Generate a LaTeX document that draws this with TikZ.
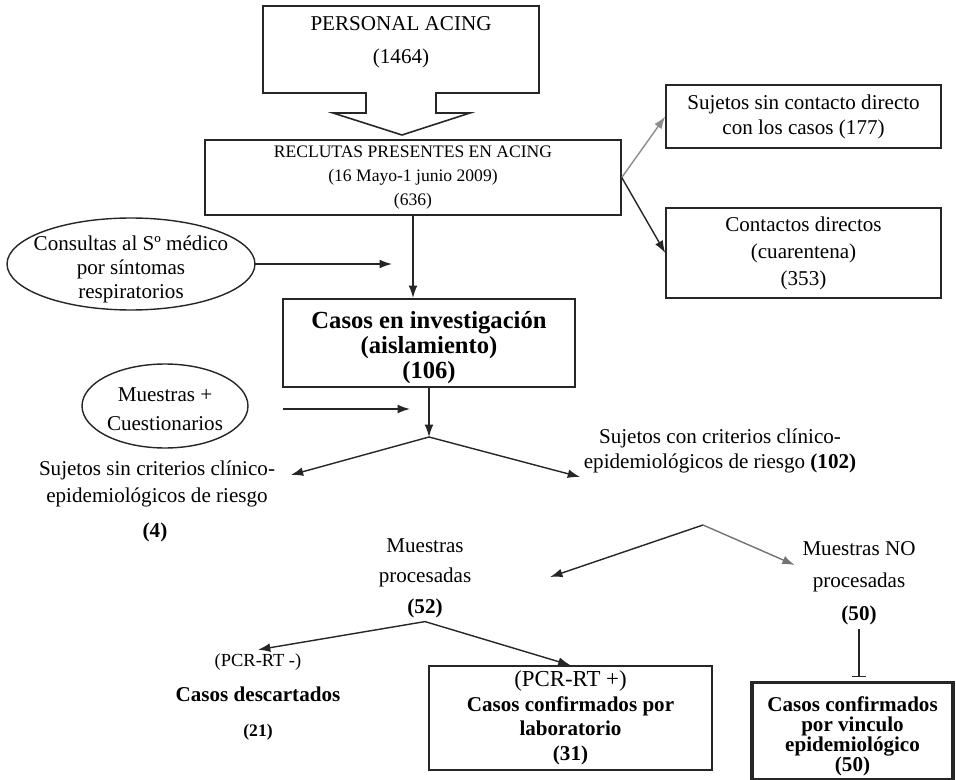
\documentclass[tikz,border=0pt]{standalone}
\usepackage{fontspec}
\setmainfont{Liberation Serif}
\usetikzlibrary{calc,positioning,arrows.meta,shapes}

\begin{document}
\begin{tikzpicture}[x=0.02cm,y=-0.02cm]
\tikzstyle{box}=[draw=black!85, rectangle, align=center, line width=0.9pt, inner sep=2pt]
\tikzstyle{txt}=[align=center, inner sep=2pt]
\tikzstyle{arr}=[-{Latex[length=7pt, width=5pt]}, line width=0.8pt, draw=black!85]
\tikzstyle{norm}=[font=\fontsize{12}{14.2}\selectfont]

\useasboundingbox (0,0) rectangle (956,780);

% top block arrow
\node[txt, font=\fontsize{12}{19}\selectfont] (personal) at (401,42) {PERSONAL ACING\\(1464)};
\draw[line width=0.9pt, black!85] ($(personal)+(-138,-36)$) -- ++(276,0) -- ++(0,87) -- ++(-103,0) -- ++(0,20) -- ++(34,0)
  -- ++(-68,22) -- ++(-69,-22) -- ++(33,0) -- ++(0,-20) -- ++(-103,0) -- cycle;

\node[box, minimum width=8.32cm, minimum height=1.5cm, font=\fontsize{10}{13.7}\selectfont] (reclutas) at (413,177.5)
  {RECLUTAS PRESENTES EN ACING\\(16 Mayo-1 junio 2009)\\(636)};
\node[box, norm, minimum width=5.5cm, minimum height=1.26cm] (sincont) at (803.5,116.5) {Sujetos sin contacto directo\\con los casos (177)};
\node[box, minimum width=5.5cm, minimum height=1.8cm, font=\fontsize{12}{15.4}\selectfont] (contactos) at (803.5,253) {Contactos directos\\(cuarentena)\\(353)};

% ellipses
\node[txt, font=\fontsize{12}{13.7}\selectfont] (consultas) at (131,269) {Consultas al Sº médico\\por síntomas\\respiratorios};
\draw[line width=0.8pt, black!85] ($(consultas)+(0,-5)$) ellipse [x radius=2.48cm, y radius=0.92cm];
\node[txt, font=\fontsize{12}{16.5}\selectfont] (muestras) at (165,409) {Muestras +\\Cuestionarios};
\draw[line width=0.8pt, black!85] ($(muestras)+(0,-3)$) ellipse [x radius=1.66cm, y radius=0.84cm];

\node[box, minimum width=5.84cm, minimum height=1.72cm, font=\fontsize{14}{14.2}\selectfont\bfseries] (casos) at (429,343)
  {\rule{0pt}{15pt}Casos en investigación\\(aislamiento)\\(106)};

\coordinate (c1) at (392,264);
\coordinate (c2) at (410,409);
\coordinate (s1) at (429,437);
\coordinate (s2) at (703,525);

\node[txt, font=\fontsize{12}{15.4}\selectfont] (sin) at (157,484) {Sujetos sin criterios clínico-\\epidemiológicos de riesgo};
\node[txt, font=\fontsize{12}{14}\selectfont\bfseries] (n4) at (155,532) {(4)};
\node[txt, norm] (con) at (720,451) {Sujetos con criterios clínico-\\epidemiológicos de riesgo \textbf{(102)}};

\node[txt, font=\fontsize{12}{17.4}\selectfont] (proc) at (425,578) {Muestras\\procesadas\\\textbf{(52)}};
\node[txt, font=\fontsize{12}{18.5}\selectfont] (noproc) at (859,583) {Muestras NO\\procesadas\\\textbf{(50)}};

\node[txt, font=\fontsize{12}{20}\selectfont] (desc) at (258,697)
  {{\fontsize{10.5}{12}\selectfont (PCR-RT -)}\\\textbf{Casos descartados}\\{\fontsize{10}{12}\selectfont\bfseries (21)}};
\node[box, minimum width=5.66cm, minimum height=2.08cm, font=\fontsize{12}{14}\selectfont] (lab) at (570.5,718)
  {{\fontsize{13}{14}\selectfont (PCR-RT +)}\\\textbf{Casos confirmados por}\\\textbf{laboratorio}\\\textbf{(31)}};
\node[box, line width=1.8pt, minimum width=4.02cm, minimum height=1.88cm, font=\fontsize{12}{11.4}\selectfont\bfseries] (vinc) at (852.5,731)
  {\rule{0pt}{14pt}Casos confirmados\\por vinculo\\epidemiológico\\(50)};

% connectors
\draw[arr, draw=black!45] (reclutas.east) -- (sincont.west);
\foreach \i/\j in {reclutas.east/contactos.west, casos.south/s1, s1/con.south west, proc.south/desc.north, proc.south/lab.north}
  {\draw[arr] (\i) -- (\j);}
\draw[arr] (reclutas.south) -- (reclutas.south |- casos.north);
\draw[arr] ($(consultas)+(124,-5)$) -- (c1);
\draw[arr] ($(muestras)+(118,0)$) -- (c2);
\draw[arr] (s1) -- ($(sin.east)+(12,-9)$);
\draw[arr] (s2) -- ($(proc.east)+(75,-1)$);
\draw[arr, draw=black!55] (s2) -- ($(noproc.west)+(-4,-18)$);
\draw[-{Bar[width=8pt]}, line width=0.8pt, black!85, shorten >=2.5pt] (noproc.south) -- (noproc.south |- vinc.north);
\end{tikzpicture}
\end{document}
